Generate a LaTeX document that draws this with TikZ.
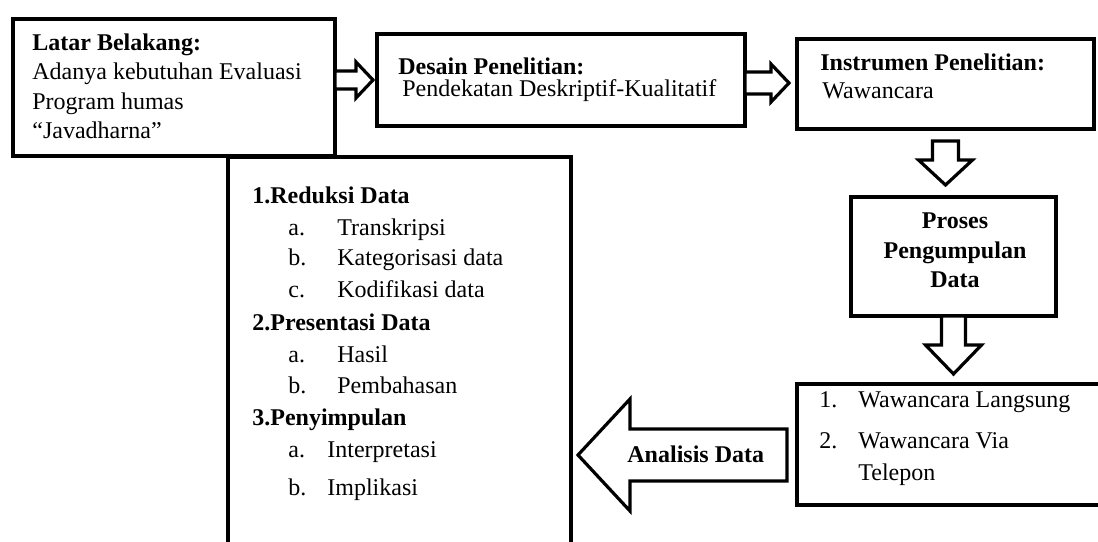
\documentclass[tikz,border=0pt]{standalone}
\usepackage{fontspec}
\setmainfont{Liberation Serif}
\usetikzlibrary{calc}
\tikzset{
    box/.style={draw, line width=1.9pt, inner sep=0pt, outer sep=0pt},
    blockarrow/.style={draw, fill=white, line width=1.6pt, line join=miter},
    txt/.style={anchor=base west, inner sep=0pt, font=\fontsize{12}{14}\selectfont},
    btxt/.style={anchor=base west, inner sep=0pt, font=\fontsize{12}{14}\selectfont\bfseries}
}

\begin{document}
\begin{tikzpicture}[x=0.5pt, y=-0.5pt]
    \useasboundingbox (0,0) rectangle (1098,541);
    % boxes
    \node[box, minimum width=171.5pt, minimum height=206.5pt] (analisa) at (399.5,363.5) {};
    \node[box, minimum width=161pt, minimum height=68.5pt] (latar) at (174,87.5) {};
    \node[box, minimum width=184pt, minimum height=46pt] (desain) at (561,80) {};
    \node[box, minimum width=148.5pt, minimum height=45pt] (instrumen) at (945.5,84) {};
    \node[box, minimum width=102.5pt, minimum height=59.5pt] (proses) at (953.5,256.5) {};
    \node[box, minimum width=156.5pt, minimum height=60.5pt] (wawancara) at (953.5,444.5) {};
    % latar belakang
    \node[btxt] (latar1) at (32,50) {Latar Belakang:};
    \node[txt] (latar2) at (32,79) {Adanya kebutuhan Evaluasi};
    \node[txt] (latar3) at (32,109) {Program humas};
    \node[txt] (latar4) at (32,138) {“Javadharna”};
    % desain penelitian
    \node[btxt] (desain1) at (398,74) {Desain Penelitian:};
    \node[txt] (desain2) at (402,96) {Pendekatan Deskriptif-Kualitatif};
    % instrumen
    \node[btxt] (instrumen1) at (820,70) {Instrumen Penelitian:};
    \node[txt] (instrumen2) at (822,98) {Wawancara};
    % proses
    \node[btxt, anchor=base] (proses1) at (955,228) {Proses};
    \node[btxt, anchor=base] (proses2) at (955,258) {Pengumpulan};
    \node[btxt, anchor=base] (proses3) at (955,287) {Data};
    % jenis wawancara
    \node[txt] (wnum1) at (819,407) {1.};
    \node[txt] (wawancara1) at (858,407) {Wawancara Langsung};
    \node[txt] (wnum2) at (819,448) {2.};
    \node[txt] (wawancara2) at (858,448) {Wawancara Via};
    \node[txt] (wawancara3) at (858,480) {Telepon};
    % analisis
    \node[btxt] (reduksi) at (252,203) {1.Reduksi Data};
    \node[txt] (rnum1) at (288,235) {a.};
    \node[txt] (reduksi1) at (337,235) {Transkripsi};
    \node[txt] (rnum2) at (288,265) {b.};
    \node[txt] (reduksi2) at (337,265) {Kategorisasi data};
    \node[txt] (rnum3) at (288,297) {c.};
    \node[txt] (reduksi3) at (337,297) {Kodifikasi data};
    \node[btxt] (presentasi) at (252,330) {2.Presentasi Data};
    \node[txt] (pnum1) at (288,362) {a.};
    \node[txt] (presentasi1) at (337,362) {Hasil};
    \node[txt] (pnum2) at (288,393) {b.};
    \node[txt] (presentasi2) at (337,393) {Pembahasan};
    \node[btxt] (simpul) at (252,425) {3.Penyimpulan};
    \node[txt] (snum1) at (288,457) {a.};
    \node[txt] (simpul1) at (327,457) {Interpretasi};
    \node[txt] (snum2) at (288,495) {b.};
    \node[txt] (simpul2) at (327,495) {Implikasi};
    % block arrows
    \draw[blockarrow] ($(latar.east)+(0,-16.5)$) -- ++(21,0) -- ++(0,-9) -- ($(desain.west)+(-4,0)$)
        -- ++(-17,18) -- ++(0,-9) -- ++(-21,0) -- cycle;
    \draw[blockarrow] ($(desain.east)+(0,-8)$) -- ++(26,0) -- ++(0,-8) -- ($(instrumen.west)+(-8,-1)$)
        -- ++(-18,19) -- ++(0,-8) -- ++(-26,0) -- cycle;
    \draw[blockarrow] ($(instrumen.south)+(-13,12)$) -- ++(26,0) -- ++(0,19) -- ++(14,0)
        -- ++(-27,25) -- ++(-27,-25) -- ++(14,0) -- cycle;
    \draw[blockarrow] ($(proses.south)+(-12,0)$) -- ++(24,0) -- ++(0,29) -- ++(16,0)
        -- ++(-28,29) -- ++(-28,-29) -- ++(16,0) -- cycle;
    \coordinate (atail) at ($(wawancara.west)+(-10,10.5)$);
    \draw[blockarrow] (atail) ++(0,-26) -- ++(-157,0) -- ++(0,-30) -- ++(-52,56)
        -- ++(52,56) -- ++(0,-30) -- ++(157,0) -- cycle;
    \node[btxt] (analisis) at (627,462) {Analisis Data};
\end{tikzpicture}
\end{document}
